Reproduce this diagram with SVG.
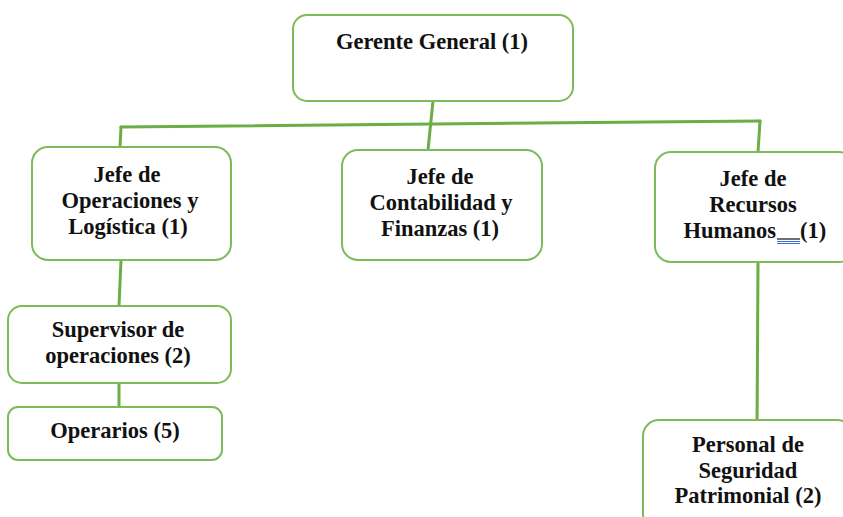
<svg xmlns="http://www.w3.org/2000/svg" width="843" height="517" viewBox="0 0 843 517">
<style>
.box{fill:#fff;stroke:#7dbb5a;stroke-width:2}
.t{font-family:"Liberation Serif","Times New Roman",serif;font-weight:bold;font-size:22.5px;fill:#111;text-anchor:middle}
.c{stroke:#6aae45;stroke-width:3;fill:none;stroke-linecap:round}
</style>
<rect width="843" height="517" fill="#fff"/>
<g id="connectors">
<line class="c" x1="121" y1="127" x2="760" y2="121"/>
<line class="c" x1="433" y1="101" x2="428" y2="150"/>
<line class="c" x1="121" y1="127" x2="120" y2="147"/>
<line class="c" x1="760" y1="121" x2="758" y2="152"/>
<line class="c" x1="121" y1="260" x2="119" y2="306"/>
<line class="c" x1="119" y1="383" x2="119" y2="412"/>
<line class="c" x1="758" y1="262" x2="757" y2="432"/>
</g>
<g id="gerente">
<rect class="box" x="293" y="15" width="280" height="86" rx="14"/>
<text class="t" x="432" y="49">Gerente General (1)</text>
</g>
<g id="operaciones">
<rect class="box" x="32" y="147" width="199" height="113" rx="16"/>
<text class="t" x="127" y="182">Jefe de</text>
<text class="t" x="130" y="208">Operaciones y</text>
<text class="t" x="128" y="234">Logística (1)</text>
</g>
<g id="contabilidad">
<rect class="box" x="342" y="150" width="200" height="110" rx="16"/>
<text class="t" x="440" y="184">Jefe de</text>
<text class="t" x="441" y="210">Contabilidad y</text>
<text class="t" x="440" y="236">Finanzas (1)</text>
</g>
<g id="rrhh">
<rect class="box" x="655" y="152" width="200" height="110" rx="16"/>
<text class="t" x="753" y="186">Jefe de</text>
<text class="t" x="753" y="212">Recursos</text>
<text class="t" x="776" y="238" style="text-anchor:end">Humanos</text>
<text class="t" x="800" y="238" style="text-anchor:start">(1)</text>
<line x1="777" y1="239" x2="800" y2="239" stroke="#111" stroke-width="1.2"/>
<line x1="777" y1="241.5" x2="800" y2="241.5" stroke="#3b6fd8" stroke-width="1"/>
<line x1="777" y1="243.5" x2="800" y2="243.5" stroke="#3b6fd8" stroke-width="1"/>
</g>
<g id="supervisor">
<rect class="box" x="8" y="306" width="223" height="77" rx="14"/>
<text class="t" x="118" y="337">Supervisor de</text>
<text class="t" x="118" y="363">operaciones (2)</text>
</g>
<g id="operarios">
<rect class="box" x="8" y="407" width="214" height="53" rx="10"/>
<text class="t" x="115" y="438">Operarios (5)</text>
</g>
<g id="seguridad">
<rect class="box" x="643" y="420" width="210" height="110" rx="16"/>
<text class="t" x="748" y="452">Personal de</text>
<text class="t" x="748" y="478">Seguridad</text>
<text class="t" x="748" y="503">Patrimonial (2)</text>
</g>
</svg>
